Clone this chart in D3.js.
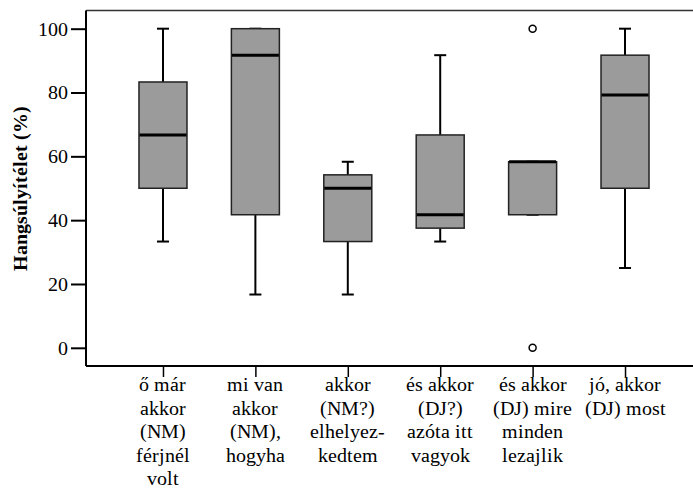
<!DOCTYPE html>
<html>
<head>
<meta charset="utf-8">
<script src="https://cdn.jsdelivr.net/npm/d3@7"></script>
<style>
  @font-face {
    font-family: "ChartSerif";
    font-weight: 400;
    src: local("Liberation Serif"), local("LiberationSerif"), local("LiberationSerif-Regular"),
         local("Times New Roman"), local("Tinos"), local("Tinos-Regular"),
         local("DejaVu Serif"), local("DejaVuSerif"), local("Noto Serif"), local("NotoSerif-Regular");
  }
  @font-face {
    font-family: "ChartSerif";
    font-weight: 700;
    src: local("Liberation Serif Bold"), local("LiberationSerif-Bold"),
         local("Times New Roman Bold"), local("Tinos Bold"), local("Tinos-Bold"),
         local("DejaVu Serif Bold"), local("DejaVuSerif-Bold"), local("Noto Serif Bold"), local("NotoSerif-Bold");
  }
  html, body { margin: 0; padding: 0; background: #fff; }
  svg { display: block; }
  svg text { font-family: "ChartSerif", "Liberation Serif", "DejaVu Serif", serif; fill: #000; }
</style>
</head>
<body>
<svg id="chart" width="693" height="495"></svg>
<script>
// ---- data ----
const categories = [
  "ő már\nakkor\n(NM)\nférjnél\nvolt",
  "mi van\nakkor\n(NM),\nhogyha",
  "akkor\n(NM?)\nelhelyez-\nkedtem",
  "és akkor\n(DJ?)\nazóta itt\nvagyok",
  "és akkor\n(DJ) mire\nminden\nlezajlik",
  "jó, akkor\n(DJ) most"
];
const whiskerLow  = [33.3, 16.7, 16.7, 33.3, 41.7, 25.0];
const q1          = [50.0, 41.7, 33.3, 37.5, 41.7, 50.0];
const median      = [66.7, 91.7, 50.0, 41.7, 58.3, 79.2];
const q3          = [83.3, 100.0, 54.2, 66.7, 58.3, 91.7];
const whiskerHigh = [100.0, 100.0, 58.3, 91.7, 58.3, 100.0];
const outliers    = [[], [], [], [], [100, 0], []];
const yTicks      = [0, 20, 40, 60, 80, 100];
const yTitle      = "Hangsúlyítélet (%)";

// ---- layout ----
const FONT = "ChartSerif, 'Liberation Serif', 'DejaVu Serif', serif";
const svg = d3.select("#chart");
const mLeft = 86, mRight = 702, mTop = 10.5, mBottom = 366;

const x = d3.scalePoint().domain(categories).range([mLeft, mRight]).padding(0.833);
const y = d3.scaleLinear().domain([-5.7, 105.7]).range([mBottom, mTop]);
const boxW = 48, capW = 12;

// frame
svg.append("line").attr("x1", mLeft).attr("x2", mRight).attr("y1", mTop).attr("y2", mTop)
  .attr("stroke", "#333").attr("stroke-width", 1.3);

// boxes
const g = svg.append("g");
categories.forEach((c, i) => {
  const cx = x(c);
  g.append("line").attr("x1", cx).attr("x2", cx).attr("y1", y(q3[i])).attr("y2", y(whiskerHigh[i]))
    .attr("stroke", "#000").attr("stroke-width", 2);
  g.append("line").attr("x1", cx).attr("x2", cx).attr("y1", y(q1[i])).attr("y2", y(whiskerLow[i]))
    .attr("stroke", "#000").attr("stroke-width", 2);
  g.append("line").attr("x1", cx - capW / 2).attr("x2", cx + capW / 2)
    .attr("y1", y(whiskerHigh[i])).attr("y2", y(whiskerHigh[i]))
    .attr("stroke", "#000").attr("stroke-width", 2);
  g.append("line").attr("x1", cx - capW / 2).attr("x2", cx + capW / 2)
    .attr("y1", y(whiskerLow[i])).attr("y2", y(whiskerLow[i]))
    .attr("stroke", "#000").attr("stroke-width", 2);
  g.append("rect").attr("x", cx - boxW / 2).attr("width", boxW)
    .attr("y", y(q3[i])).attr("height", y(q1[i]) - y(q3[i]))
    .attr("fill", "#9b9b9b").attr("stroke", "#222").attr("stroke-width", 1.5);
  g.append("line").attr("x1", cx - boxW / 2 + 0.5).attr("x2", cx + boxW / 2 - 0.5)
    .attr("y1", y(median[i])).attr("y2", y(median[i]))
    .attr("stroke", "#000").attr("stroke-width", 3);
  outliers[i].forEach(v => {
    g.append("circle").attr("cx", cx).attr("cy", y(v)).attr("r", 3.5)
      .attr("fill", "#fff").attr("stroke", "#000").attr("stroke-width", 1.5);
  });
});

// y axis
const yAxis = svg.append("g").attr("transform", `translate(${mLeft},0)`)
  .call(d3.axisLeft(y).tickValues(yTicks).tickSize(15).tickPadding(3).tickFormat(d3.format("d")));
yAxis.attr("font-family", FONT);
yAxis.select(".domain").attr("stroke", "#000").attr("stroke-width", 2)
  .attr("d", `M0,${mTop}V${mBottom}`);
yAxis.selectAll(".tick line").attr("stroke", "#000").attr("stroke-width", 2);
yAxis.selectAll(".tick text").attr("font-size", 20).attr("font-family", FONT)
  .attr("fill", "#000");

// x axis
const xAxis = svg.append("g").attr("transform", `translate(0,${mBottom})`)
  .call(d3.axisBottom(x).tickSize(11).tickFormat(""));
xAxis.select(".domain").attr("stroke", "#000").attr("stroke-width", 2)
  .attr("d", `M${mLeft},0H${mRight}`);
xAxis.selectAll(".tick line").attr("stroke", "#000").attr("stroke-width", 1.5);

// category labels
categories.forEach(c => {
  const t = svg.append("text").attr("text-anchor", "middle").attr("font-size", 20)
    .attr("font-family", FONT).attr("x", x(c)).attr("y", 391);
  c.split("\n").forEach((line, k) => {
    t.append("tspan").attr("x", x(c)).attr("dy", k === 0 ? 0 : 23.5).text(line);
  });
});

// y title
svg.append("text")
  .attr("transform", `translate(27,${(mTop + mBottom) / 2}) rotate(-90)`)
  .attr("text-anchor", "middle").attr("font-size", 20).attr("font-weight", "bold")
  .attr("font-family", FONT)
  .text(yTitle);
</script>
</body>
</html>
